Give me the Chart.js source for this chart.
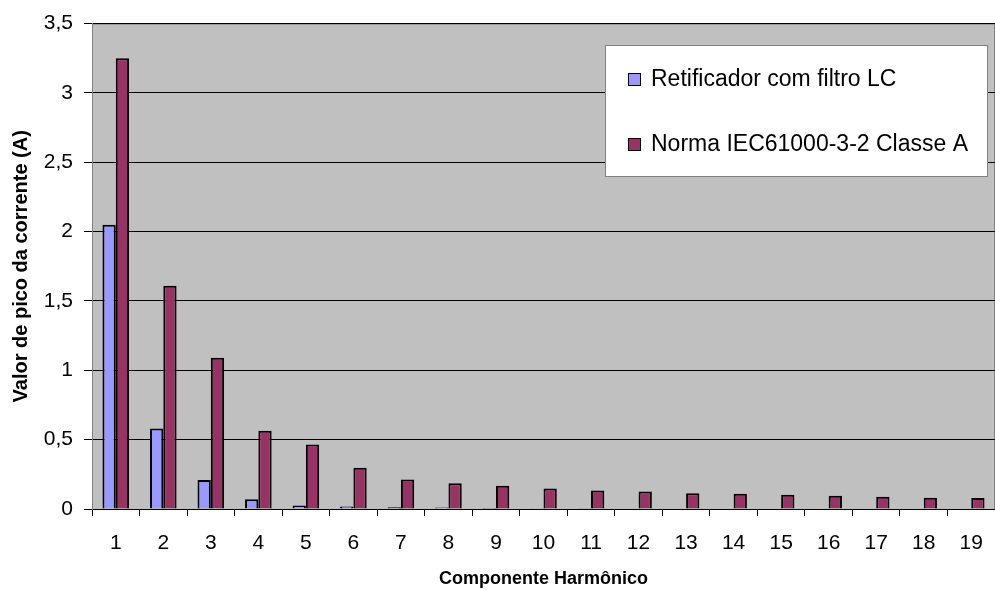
<!DOCTYPE html>
<html>
<head>
<meta charset="utf-8">
<script src="https://cdn.jsdelivr.net/npm/chart.js@4"></script>
<style>
  body { margin: 0; background: #fff; overflow: hidden; }
  #wrap { width: 995px; height: 590px; }
</style>
</head>
<body>
<div id="wrap"><canvas id="chart" width="995" height="590"></canvas></div>
<script>
// dados
const harmonicos = ["1", "2", "3", "4", "5", "6", "7", "8", "9", "10", "11", "12", "13", "14", "15", "16", "17", "18", "19"];
const retificadorLC = [2.05, 0.58, 0.21, 0.07, 0.025, 0.018, 0.012, 0.01, 0.008, 0.006, 0.005, 0, 0, 0, 0, 0, 0, 0, 0];
const normaIEC = [3.25, 1.61, 1.09, 0.565, 0.465, 0.297, 0.213, 0.186, 0.167, 0.148, 0.134, 0.127, 0.114, 0.11, 0.102, 0.095, 0.088, 0.081, 0.08];
const seriesNomes = ["Retificador com filtro LC", "Norma IEC61000-3-2 Classe A"];
const cores = ["#9999FF", "#993366"];

const fonte = "'Liberation Sans', Arial, sans-serif";

// fundo cinza e borda da área de plotagem + legenda em caixa
const fundoPlot = {
    id: "fundoPlot",
    beforeDraw(chart) {
        const { ctx, chartArea: a } = chart;
        ctx.save();
        ctx.fillStyle = "#C0C0C0";
        ctx.fillRect(a.left, a.top, a.right - a.left, a.bottom - a.top);
        ctx.strokeStyle = "#808080";
        ctx.lineWidth = 1;
        ctx.strokeRect(a.left + 0.5, a.top + 0.5, a.right - a.left - 1, a.bottom - a.top);
        ctx.restore();
    },
    afterDatasetsDraw(chart) {
        const { ctx } = chart;
        ctx.save();
        const x = 605, y = 45, w = 382, h = 131;
        ctx.fillStyle = "#fff";
        ctx.fillRect(x, y, w, h);
        ctx.strokeStyle = "#808080";
        ctx.lineWidth = 1;
        ctx.strokeRect(x + 0.5, y + 0.5, w, h);
        ctx.font = "23px " + fonte;
        ctx.textBaseline = "middle";
        const linhas = [79, 144];
        seriesNomes.forEach((nome, i) => {
            ctx.fillStyle = cores[i];
            ctx.fillRect(628, linhas[i] - 6, 13, 13);
            ctx.strokeStyle = "#000";
            ctx.strokeRect(628.5, linhas[i] - 5.5, 12, 12);
            ctx.fillStyle = "#000";
            ctx.fillText(nome, 651, linhas[i] + 1);
        });
        ctx.restore();
    }
};

new Chart(document.getElementById("chart").getContext("2d"), {
    type: "bar",
    data: {
        labels: harmonicos,
        datasets: [
            {
                label: seriesNomes[0],
                data: retificadorLC,
                backgroundColor: cores[0],
                borderColor: "#000",
                borderWidth: 2,
                barPercentage: 1,
                categoryPercentage: 0.56
            },
            {
                label: seriesNomes[1],
                data: normaIEC,
                backgroundColor: cores[1],
                borderColor: "#000",
                borderWidth: 2,
                barPercentage: 1,
                categoryPercentage: 0.56
            }
        ]
    },
    options: {
        responsive: false,
        animation: false,
        layout: { padding: { top: 23, right: -8, left: 0, bottom: 0 } },
        plugins: {
            legend: { display: false },
            tooltip: { enabled: false }
        },
        scales: {
            x: {
                afterFit(s) { s.height = 81; s.paddingRight = 0; },
                grid: {
                    offset: true,
                    drawOnChartArea: false,
                    drawTicks: true,
                    tickLength: 7,
                    color: "#000",
                    tickColor: "#000"
                },
                border: { color: "#000" },
                ticks: {
                    color: "#000",
                    font: { family: fonte, size: 21 },
                    padding: 15,
                    maxRotation: 0
                },
                title: {
                    display: true,
                    text: "Componente Harmônico",
                    color: "#000",
                    font: { family: fonte, size: 18, weight: "bold" },
                    padding: { top: 8, bottom: 0 }
                }
            },
            y: {
                min: 0,
                max: 3.5,
                afterFit(s) { s.width = 92; },
                grid: {
                    color: "#000",
                    tickColor: "#000",
                    tickLength: 8
                },
                border: { color: "#808080" },
                ticks: {
                    stepSize: 0.5,
                    color: "#000",
                    padding: 11,
                    font: { family: fonte, size: 21 },
                    callback: v => v.toString().replace(".", ",")
                },
                title: {
                    display: true,
                    text: "Valor de pico da corrente (A)",
                    color: "#000",
                    font: { family: fonte, size: 20, weight: "bold" },
                    padding: { top: 9, bottom: 0 }
                }
            }
        }
    },
    plugins: [fundoPlot]
});
</script>
</body>
</html>
